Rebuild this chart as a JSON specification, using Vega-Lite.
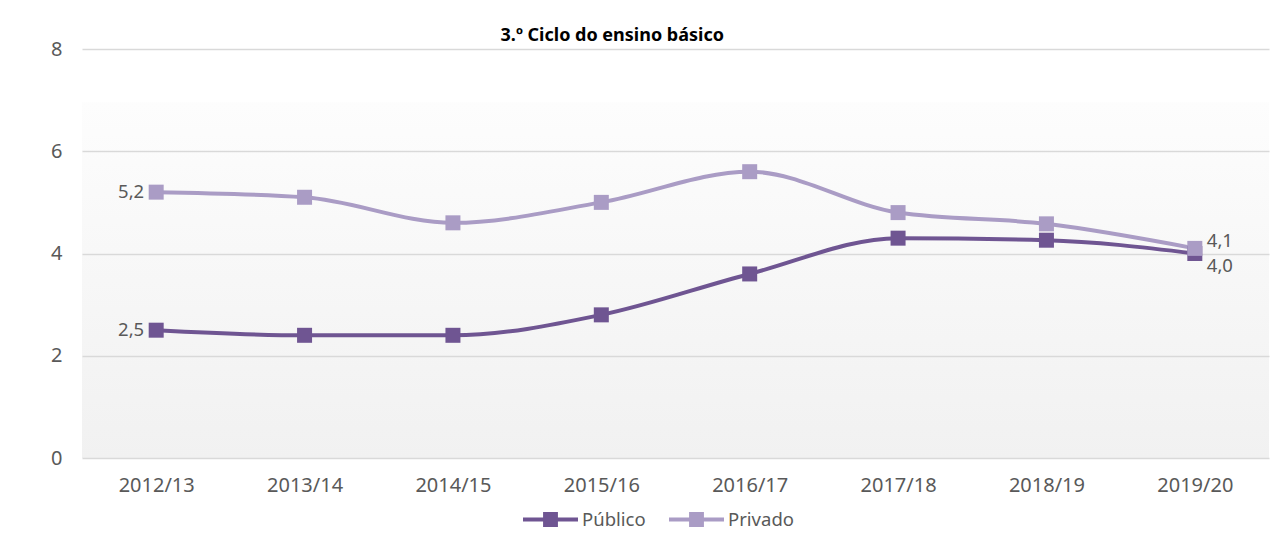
{
  "$schema": "https://vega.github.io/schema/vega-lite/v6.json",
  "width": 1187,
  "height": 409,
  "autosize": {"type": "none"},
  "padding": {"left": 82, "top": 49, "right": 15, "bottom": 75},
  "background": "#ffffff",
  "title": {
    "text": "3.º Ciclo do ensino básico",
    "anchor": "start",
    "dx": 450,
    "offset": -20,
    "baseline": "alphabetic",
    "font": "Noto Sans",
    "fontSize": 18,
    "fontWeight": "bold",
    "color": "#000000"
  },
  "config": {
    "locale": {"number": {"decimal": ",", "thousands": ".", "grouping": [3], "currency": ["", " €"]}},
    "font": "Noto Sans",
    "view": {
      "stroke": null,
      "fill": {
        "gradient": "linear", "x1": 0, "y1": 0, "x2": 0, "y2": 1,
        "stops": [
          {"offset": 0, "color": "#ffffff"},
          {"offset": 0.13, "color": "#ffffff"},
          {"offset": 0.131, "color": "#fdfdfd"},
          {"offset": 1, "color": "#f1f1f1"}
        ]
      }
    }
  },
  "data": {
    "values": [
      {"ano": "2012/13", "serie": "Público", "valor": 2.5},
      {"ano": "2013/14", "serie": "Público", "valor": 2.4},
      {"ano": "2014/15", "serie": "Público", "valor": 2.4},
      {"ano": "2015/16", "serie": "Público", "valor": 2.8},
      {"ano": "2016/17", "serie": "Público", "valor": 3.6},
      {"ano": "2017/18", "serie": "Público", "valor": 4.3},
      {"ano": "2018/19", "serie": "Público", "valor": 4.26},
      {"ano": "2019/20", "serie": "Público", "valor": 4.0},
      {"ano": "2012/13", "serie": "Privado", "valor": 5.2},
      {"ano": "2013/14", "serie": "Privado", "valor": 5.1},
      {"ano": "2014/15", "serie": "Privado", "valor": 4.6},
      {"ano": "2015/16", "serie": "Privado", "valor": 5.0},
      {"ano": "2016/17", "serie": "Privado", "valor": 5.6},
      {"ano": "2017/18", "serie": "Privado", "valor": 4.8},
      {"ano": "2018/19", "serie": "Privado", "valor": 4.58},
      {"ano": "2019/20", "serie": "Privado", "valor": 4.1}
    ]
  },
  "encoding": {
    "x": {
      "field": "ano", "type": "ordinal", "sort": null,
      "scale": {"type": "point", "padding": 0.5},
      "axis": {
        "title": null, "labelAngle": 0, "domain": false, "ticks": false,
        "labelPadding": 17, "labelFontSize": 20, "labelColor": "#595959",
        "labelFont": "Noto Sans"
      }
    },
    "y": {
      "field": "valor", "type": "quantitative",
      "scale": {"domain": [0, 8], "nice": false},
      "axis": {
        "title": null, "values": [0, 2, 4, 6, 8], "domain": false, "ticks": false,
        "labelPadding": 20, "labelFontSize": 20, "labelColor": "#595959",
        "gridColor": "#d9d9d9", "gridWidth": 1.5, "labelFont": "Noto Sans"
      }
    },
    "color": {
      "field": "serie", "type": "nominal",
      "scale": {"domain": ["Público", "Privado"], "range": ["#6f5592", "#aa9cc5"]},
      "legend": {
        "title": null, "orient": "none", "direction": "horizontal",
        "legendX": 441, "legendY": 443,
        "symbolType": "M-1,-0.073H1V0.073H-1Z M-0.27,-0.27H0.27V0.27H-0.27Z",
        "symbolSize": 3025, "symbolStrokeWidth": 0,
        "labelFontSize": 18.5, "labelColor": "#595959", "labelFont": "Noto Sans",
        "labelOffset": 4, "columnPadding": 23
      }
    }
  },
  "layer": [
    {
      "mark": {"type": "line", "interpolate": "monotone", "strokeWidth": 4}
    },
    {
      "mark": {"type": "point", "shape": "square", "filled": true, "size": 225, "opacity": 1}
    },
    {
      "transform": [{"filter": "datum.ano == '2012/13'"}],
      "mark": {"type": "text", "align": "right", "baseline": "middle", "dx": -12, "fontSize": 18.5},
      "encoding": {"text": {"field": "valor", "type": "quantitative", "format": ".1f"}, "color": {"value": "#595959"}}
    },
    {
      "transform": [{"filter": "datum.ano == '2019/20' && datum.serie == 'Privado'"}],
      "mark": {"type": "text", "align": "left", "baseline": "middle", "dx": 12, "dy": -7, "fontSize": 18.5},
      "encoding": {"text": {"field": "valor", "type": "quantitative", "format": ".1f"}, "color": {"value": "#595959"}}
    },
    {
      "transform": [{"filter": "datum.ano == '2019/20' && datum.serie == 'Público'"}],
      "mark": {"type": "text", "align": "left", "baseline": "middle", "dx": 12, "dy": 12, "fontSize": 18.5},
      "encoding": {"text": {"field": "valor", "type": "quantitative", "format": ".1f"}, "color": {"value": "#595959"}}
    }
  ]
}
